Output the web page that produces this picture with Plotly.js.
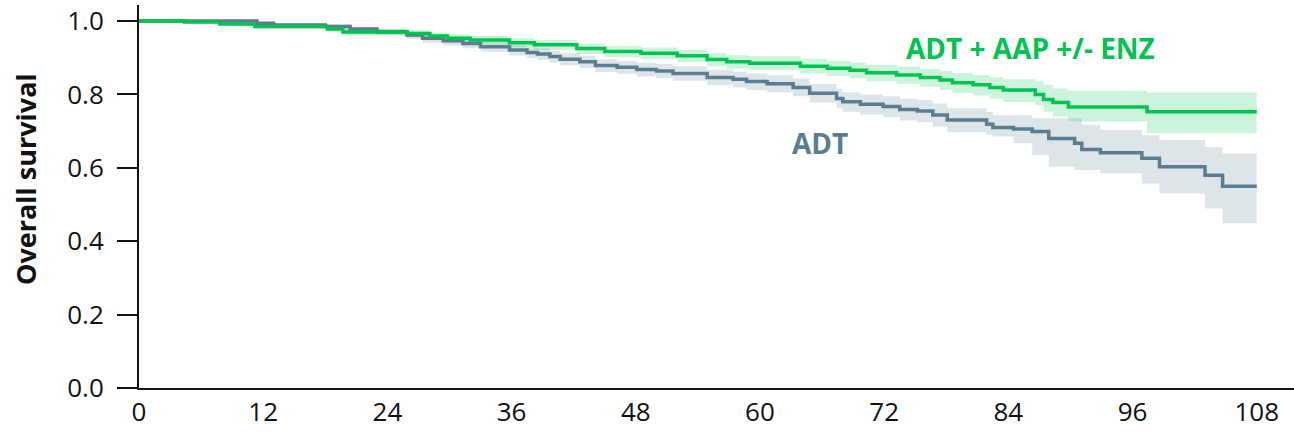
<!DOCTYPE html>
<html>
<head>
<meta charset="utf-8">
<script src="https://cdn.plot.ly/plotly-3.0.1.min.js"></script>
<style>
  html, body { margin: 0; padding: 0; background: #ffffff; }
  #chart { width: 1294px; height: 433px; }
</style>
</head>
<body>
<div id="chart"></div>
<script>
// Kaplan–Meier overall survival, months since randomisation

// ADT + AAP +/- ENZ arm
const comboMonths = [0, 4.4, 7.8, 11.2, 18.2, 19.7, 25.9, 28.1, 29.8, 32.0, 35.8, 38.2, 42.3, 45.0, 48.5, 52.0, 54.9, 56.8, 59.0, 63.9, 66.5, 68.7, 70.3, 73.2, 75.5, 77.4, 78.6, 80.6, 82.2, 83.5, 86.6, 87.4, 88.3, 89.8, 97.4, 108];
const comboSurv   = [1.000, 0.997, 0.992, 0.985, 0.978, 0.970, 0.966, 0.959, 0.953, 0.948, 0.941, 0.935, 0.925, 0.917, 0.912, 0.905, 0.895, 0.889, 0.885, 0.877, 0.871, 0.866, 0.859, 0.853, 0.846, 0.839, 0.832, 0.826, 0.819, 0.812, 0.800, 0.786, 0.778, 0.766, 0.753, 0.753];
const comboLower  = [0.998, 0.993, 0.987, 0.979, 0.970, 0.961, 0.956, 0.948, 0.941, 0.936, 0.928, 0.921, 0.910, 0.901, 0.896, 0.888, 0.877, 0.870, 0.866, 0.857, 0.850, 0.844, 0.836, 0.829, 0.821, 0.812, 0.804, 0.797, 0.788, 0.779, 0.771, 0.753, 0.740, 0.726, 0.694, 0.694];
const comboUpper  = [1.000, 1.000, 0.996, 0.990, 0.985, 0.978, 0.975, 0.969, 0.964, 0.960, 0.953, 0.948, 0.939, 0.932, 0.928, 0.922, 0.913, 0.907, 0.904, 0.897, 0.891, 0.887, 0.881, 0.876, 0.870, 0.864, 0.858, 0.853, 0.847, 0.841, 0.836, 0.826, 0.816, 0.810, 0.805, 0.805];

// ADT alone arm
const adtMonths = [0, 11.4, 13.0, 18.0, 20.4, 23.0, 25.9, 27.4, 29.4, 31.3, 33.0, 35.8, 37.5, 38.5, 39.7, 40.7, 42.6, 44.1, 46.2, 48.1, 50.0, 51.6, 54.9, 57.4, 58.7, 60.7, 63.2, 64.8, 67.4, 68.0, 69.7, 71.9, 73.5, 75.2, 76.7, 78.1, 81.9, 82.5, 84.5, 86.3, 87.9, 90.4, 91.1, 92.9, 96.9, 98.6, 103.0, 104.7, 108];
const adtSurv   = [1.000, 0.994, 0.989, 0.985, 0.978, 0.971, 0.962, 0.953, 0.946, 0.939, 0.930, 0.921, 0.914, 0.910, 0.903, 0.896, 0.889, 0.879, 0.874, 0.868, 0.864, 0.857, 0.846, 0.841, 0.835, 0.829, 0.819, 0.803, 0.789, 0.780, 0.773, 0.767, 0.759, 0.755, 0.744, 0.730, 0.719, 0.710, 0.706, 0.699, 0.680, 0.667, 0.650, 0.641, 0.626, 0.603, 0.580, 0.550, 0.550];
const adtLower  = [0.998, 0.989, 0.982, 0.977, 0.969, 0.961, 0.951, 0.941, 0.933, 0.926, 0.916, 0.906, 0.899, 0.894, 0.887, 0.879, 0.872, 0.861, 0.856, 0.849, 0.844, 0.837, 0.825, 0.819, 0.812, 0.806, 0.795, 0.778, 0.763, 0.753, 0.745, 0.738, 0.729, 0.724, 0.712, 0.697, 0.690, 0.685, 0.667, 0.635, 0.603, 0.594, 0.594, 0.585, 0.557, 0.530, 0.489, 0.449, 0.449];
const adtUpper  = [1.000, 0.998, 0.994, 0.991, 0.985, 0.979, 0.971, 0.963, 0.957, 0.951, 0.943, 0.935, 0.928, 0.925, 0.918, 0.912, 0.905, 0.896, 0.892, 0.886, 0.883, 0.877, 0.867, 0.862, 0.857, 0.852, 0.843, 0.828, 0.815, 0.806, 0.800, 0.795, 0.788, 0.785, 0.775, 0.762, 0.752, 0.744, 0.744, 0.735, 0.735, 0.735, 0.717, 0.703, 0.689, 0.676, 0.657, 0.639, 0.639];

const xTicks = [0, 12, 24, 36, 48, 60, 72, 84, 96, 108];
const yTicks = [0, 0.2, 0.4, 0.6, 0.8, 1.0];
const yTickLabels = ['0.0', '0.2', '0.4', '0.6', '0.8', '1.0'];

const comboColor = '#00c44f';
const adtColor = '#5b7d92';

function band(x, lo, hi, fill) {
  return [
    { x: x, y: lo, mode: 'lines', line: { width: 0, shape: 'hv' }, hoverinfo: 'skip', showlegend: false },
    { x: x, y: hi, mode: 'lines', line: { width: 0, shape: 'hv' }, fill: 'tonexty', fillcolor: fill, hoverinfo: 'skip', showlegend: false }
  ];
}

const traces = [
  ...band(adtMonths, adtLower, adtUpper, 'rgba(91,125,146,0.2)'),
  ...band(comboMonths, comboLower, comboUpper, 'rgba(0,196,79,0.2)'),
  { x: adtMonths, y: adtSurv, mode: 'lines', line: { color: adtColor, width: 3.5, shape: 'hv' }, hoverinfo: 'skip', showlegend: false },
  { x: comboMonths, y: comboSurv, mode: 'lines', line: { color: comboColor, width: 3.5, shape: 'hv' }, hoverinfo: 'skip', showlegend: false }
];

const layout = {
  width: 1294,
  height: 433,
  margin: { l: 139, r: 0, t: 5, b: 45 },
  paper_bgcolor: '#ffffff',
  plot_bgcolor: '#ffffff',
  showlegend: false,
  font: { family: '"Open Sans", sans-serif', color: '#111111' },
  xaxis: {
    range: [0, 111.6],
    tickvals: xTicks,
    ticktext: xTicks.map(String),
    ticks: '',
    showline: true,
    linecolor: '#111111',
    linewidth: 2,
    showgrid: false,
    zeroline: false,
    tickfont: { size: 26, color: '#111111' },
    fixedrange: true
  },
  yaxis: {
    range: [0, 1.0436],
    tickvals: yTicks,
    ticktext: yTickLabels,
    ticks: 'outside',
    ticklen: 20,
    tickwidth: 2,
    tickcolor: '#111111',
    showline: true,
    linecolor: '#111111',
    linewidth: 2,
    showgrid: false,
    zeroline: false,
    ticklabelstandoff: 8,
    tickfont: { size: 26, color: '#111111' },
    fixedrange: true
  },
  annotations: [
    {
      xref: 'paper', yref: 'paper', x: -0.0978, y: 0.5457,
      xanchor: 'center', yanchor: 'middle', textangle: -90, showarrow: false,
      text: '<b>Overall survival</b>',
      font: { size: 27, color: '#111111', family: '"Open Sans", sans-serif' }
    },
    {
      xref: 'x', yref: 'y', x: 86.1, y: 0.926, xanchor: 'center', yanchor: 'middle', showarrow: false,
      text: '<b>ADT + AAP +/- ENZ</b>',
      font: { size: 28, color: comboColor, family: '"Open Sans", sans-serif' }
    },
    {
      xref: 'x', yref: 'y', x: 65.8, y: 0.668, xanchor: 'center', yanchor: 'middle', showarrow: false,
      text: '<b>ADT</b>',
      font: { size: 28, color: adtColor, family: '"Open Sans", sans-serif' }
    }
  ]
};

Plotly.newPlot('chart', traces, layout, { displayModeBar: false, staticPlot: true });
</script>
</body>
</html>
